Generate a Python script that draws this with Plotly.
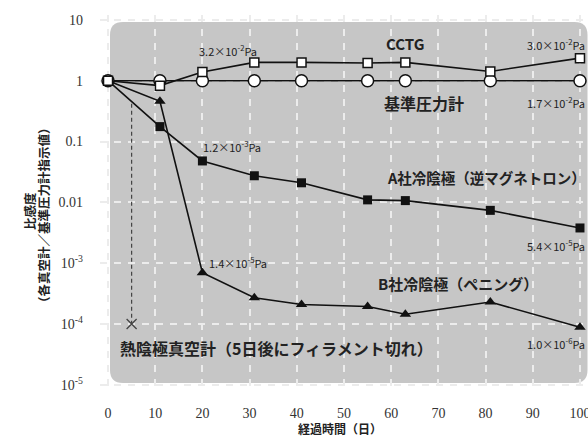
import plotly.graph_objects as go

days = [0, 11, 20, 31, 41, 55, 63, 81, 100]
ref_gauge = [1, 1, 1, 1, 1, 1, 1, 1, 1]
cctg = [1, 0.83, 1.39, 2.0, 2.0, 1.95, 2.0, 1.42, 2.35]
a_cold = [1, 0.176, 0.048, 0.0274, 0.021, 0.011, 0.0107, 0.0074, 0.0038]
b_cold = [1, 0.46, 0.0007, 0.00027, 0.00021, 0.000195, 0.000145, 0.00023, 0.000089]
hot_x = [5, 5]
hot_y = [0.42, 0.0001]

ytick_vals = [10, 1, 0.1, 0.01, 1e-3, 1e-4, 1e-5]
ytick_text = ["10", "1", "0.1", "0.01", "10<sup>-3</sup>", "10<sup>-4</sup>", "10<sup>-5</sup>"]
xtick_vals = [0, 10, 20, 30, 40, 50, 60, 70, 80, 90, 100]

fig = go.Figure()
line = dict(color="#111111", width=1.6)

fig.add_trace(go.Scatter(x=hot_x, y=hot_y, mode="lines",
                         line=dict(color="#444444", width=1.2, dash="4px,3px"), hoverinfo="skip"))
fig.add_trace(go.Scatter(x=[hot_x[1]], y=[hot_y[1]], mode="markers",
                         marker=dict(symbol="x-thin", size=10, line=dict(color="#444444", width=1.3))))
fig.add_trace(go.Scatter(x=days, y=b_cold, mode="lines+markers", line=line,
                         marker=dict(symbol="triangle-up", size=10, color="#111111")))
fig.add_trace(go.Scatter(x=days, y=a_cold, mode="lines+markers", line=line,
                         marker=dict(symbol="square", size=9, color="#111111")))
fig.add_trace(go.Scatter(x=days, y=ref_gauge, mode="lines+markers", line=line,
                         marker=dict(symbol="circle", size=12, color="white",
                                     line=dict(color="#111111", width=1.5))))
fig.add_trace(go.Scatter(x=days, y=cctg, mode="lines+markers", line=line,
                         marker=dict(symbol="square", size=9, color="white",
                                     line=dict(color="#111111", width=1.5))))

# rounded gray background (paper coords)
x0, x1, y0, y1 = 0.0205, 0.999, 0.0215, 0.9817
rx, ry = 13 / 488, 13 / 376
path = (f"M {x0+rx},{y0} L {x1-rx},{y0} Q {x1},{y0} {x1},{y0+ry} "
        f"L {x1},{y1-ry} Q {x1},{y1} {x1-rx},{y1} L {x0+rx},{y1} Q {x0},{y1} {x0},{y1-ry} "
        f"L {x0},{y0+ry} Q {x0},{y0} {x0+rx},{y0} Z")
fig.add_shape(type="path", path=path, xref="paper", yref="paper",
              fillcolor="#c6c6c6", line=dict(width=0), layer="below")

sans = "Noto Sans CJK JP"
ann = []
def lab(x, y, text, size=11, bold=False, xanchor="center"):
    t = f"<b>{text}</b>" if bold else text
    ann.append(dict(x=x, y=y, xref="paper", yref="paper", text=t, showarrow=False,
                    xanchor=xanchor, yanchor="middle",
                    font=dict(family=sans, size=size, color="#222222")))

def px(xp, yp):
    return (xp - 100) / 488, (391 - yp) / 376

lab(*px(228, 50), "3.2×10<sup>-2</sup>Pa")
lab(*px(405, 43), "CCTG", size=15, bold=True)
lab(*px(587, 45), "3.0×10<sup>-2</sup>Pa", xanchor="right")
lab(*px(424, 103), "基準圧力計", size=16, bold=True)
lab(*px(587, 102), "1.7×10<sup>-2</sup>Pa", xanchor="right")
lab(*px(232, 146), "1.2×10<sup>-3</sup>Pa")
lab(*px(486, 178), "A社冷陰極（逆マグネトロン）", size=14.5, bold=True)
lab(*px(587, 245), "5.4×10<sup>-5</sup>Pa", xanchor="right")
lab(*px(238, 262), "1.4×10<sup>-5</sup>Pa")
lab(*px(458, 283), "B社冷陰極（ペニング）", size=15, bold=True)
lab(*px(587, 343), "1.0×10<sup>-6</sup>Pa", xanchor="right")
lab(*px(276, 348), "熱陰極真空計（5日後にフィラメント切れ）", size=16, bold=True)

ann.append(dict(x=(30 - 100) / 488, y=(391 - 211) / 376, xref="paper", yref="paper",
                text="<b>比感度</b>", xanchor="center", yanchor="middle",
                showarrow=False, textangle=-90, font=dict(family=sans, size=12.5, color="#222222")))
ann.append(dict(x=(43 - 100) / 488, y=(391 - 215) / 376, xref="paper", yref="paper",
                text="<b>（各真空計／基準圧力計指示値）</b>", xanchor="center", yanchor="middle",
                showarrow=False, textangle=-90, font=dict(family=sans, size=12.5, color="#222222")))
ann.append(dict(x=(340 - 100) / 488, y=(391 - 429) / 376, xref="paper", yref="paper",
                text="<b>経過時間（日）</b>", showarrow=False, xanchor="center", yanchor="middle",
                font=dict(family=sans, size=12, color="#222222")))

serif = "Times New Roman, Liberation Serif, serif"
fig.update_layout(
    width=588, height=438,
    margin=dict(l=100, r=0, t=15, b=47, autoexpand=False),
    paper_bgcolor="white", plot_bgcolor="rgba(0,0,0,0)",
    showlegend=False, annotations=ann,
    font=dict(family=serif, size=13, color="#333333"),
)
tickfont = dict(family=serif, size=14, color="#333333")
grid = dict(showgrid=True, gridcolor="#ececec", gridwidth=1.8, griddash="7px,7px", zeroline=False,
            showline=False, ticks="", automargin=False, tickfont=tickfont, ticklabeloverflow="allow")
fig.update_xaxes(range=[-1.7, 101.7], tickvals=xtick_vals, ticklabelstandoff=12, **grid)
fig.update_yaxes(type="log", range=[-5.1, 1.08], tickvals=ytick_vals, ticktext=ytick_text,
                 ticklabelstandoff=16, **grid)

fig.write_html("out.html", config={"displayModeBar": False},
               post_script="document.body.style.margin='0';document.body.style.overflow='hidden';")
